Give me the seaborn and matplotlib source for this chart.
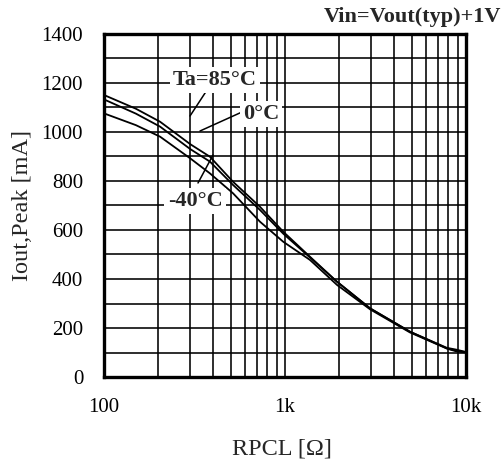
import numpy as np
import pandas as pd
import matplotlib
matplotlib.use("Agg")
import matplotlib.pyplot as plt
import seaborn as sns
from matplotlib.ticker import FixedLocator, NullFormatter, LogLocator

sns.set_style("white")
plt.rcParams['font.family'] = ['Liberation Serif', 'DejaVu Serif']

rpcl = [100, 150, 204, 300, 385, 516, 727, 978, 1373, 1937, 2955, 4900, 7840, 8800, 10000]
iout_85 = [1151, 1095, 1042, 950, 899, 797, 695, 593, 491, 389, 280, 185, 117, 108, 101]
iout_0 = [1133, 1075, 1022, 930, 879, 784, 682, 585, 488, 389, 280, 185, 119, 112, 102]
iout_m40 = [1076, 1028, 981, 892, 831, 750, 634, 552, 478, 376, 276, 182, 116, 105, 100]
temps = ["Ta=85°C", "0°C", "-40°C"]

df = pd.DataFrame({
    "RPCL": rpcl * 3,
    "Iout": iout_85 + iout_0 + iout_m40,
    "Ta": [temps[0]] * len(rpcl) + [temps[1]] * len(rpcl) + [temps[2]] * len(rpcl),
})

fig = plt.figure(figsize=(5.02, 4.65), dpi=100)
ax = fig.add_axes([104 / 502, 1 - 377 / 465, (466 - 104) / 502, (377 - 34) / 465])

sns.lineplot(data=df, x="RPCL", y="Iout", hue="Ta", palette=["black"] * 3,
             legend=False, ax=ax, linewidth=1.3, sort=True)

ax.set_xscale("log")
ax.set_xlim(100, 10000)
ax.set_ylim(0, 1400)
ax.xaxis.set_major_locator(FixedLocator([100, 1000, 10000]))
ax.set_xticklabels(["100", "1k", "10k"])
ax.xaxis.set_minor_locator(LogLocator(base=10, subs=np.arange(2, 10)))
ax.xaxis.set_minor_formatter(NullFormatter())
ax.yaxis.set_major_locator(FixedLocator(np.arange(0, 1401, 200)))
ax.yaxis.set_minor_locator(FixedLocator(np.arange(100, 1400, 200)))
ax.grid(True, which="both", color="black", linewidth=1.15)
ax.tick_params(which="both", length=0, labelsize=15, colors="black")
ax.tick_params(axis="x", pad=15)
ax.tick_params(axis="y", pad=15)
for s in ax.spines.values():
    s.set_linewidth(2.4)
    s.set_color("black")
    s.set_zorder(5)

ax.set_xlabel("RPCL [Ω]", fontsize=17.5)
ax.set_ylabel("Iout,Peak [mA]", fontsize=17.5)
ax.xaxis.set_label_coords((282 - 104) / 362, (377 - 438) / 343)
ax.yaxis.set_label_coords((33 - 104) / 362, 0.5)

fig.text(0.998, 1 - 17 / 465, "Vin=Vout(typ)+1V", ha="right", va="center",
         fontsize=16, fontweight="bold")

def px2data(px, py):
    lx = 2 + (px - 104) / 181.0
    return 10 ** lx, (377 - py) / 0.245

box = dict(boxstyle="square,pad=0.15", fc="white", ec="none")
labels = [
    (temps[0], (215, 80), (209, 87), (190, 116)),
    (temps[1], (261, 114), (242, 112), (200, 131)),
    (temps[2], (195, 201), (198, 183), (213, 155)),
]
for txt, tpos, start, end in labels:
    ax.plot(*zip(px2data(*start), px2data(*end)), color="black", lw=1.1, zorder=6)
    ax.text(*px2data(*tpos), txt, ha="center", va="center", fontsize=16,
            fontweight="bold", bbox=box, zorder=7)

fig.savefig("out.png", dpi=100)
